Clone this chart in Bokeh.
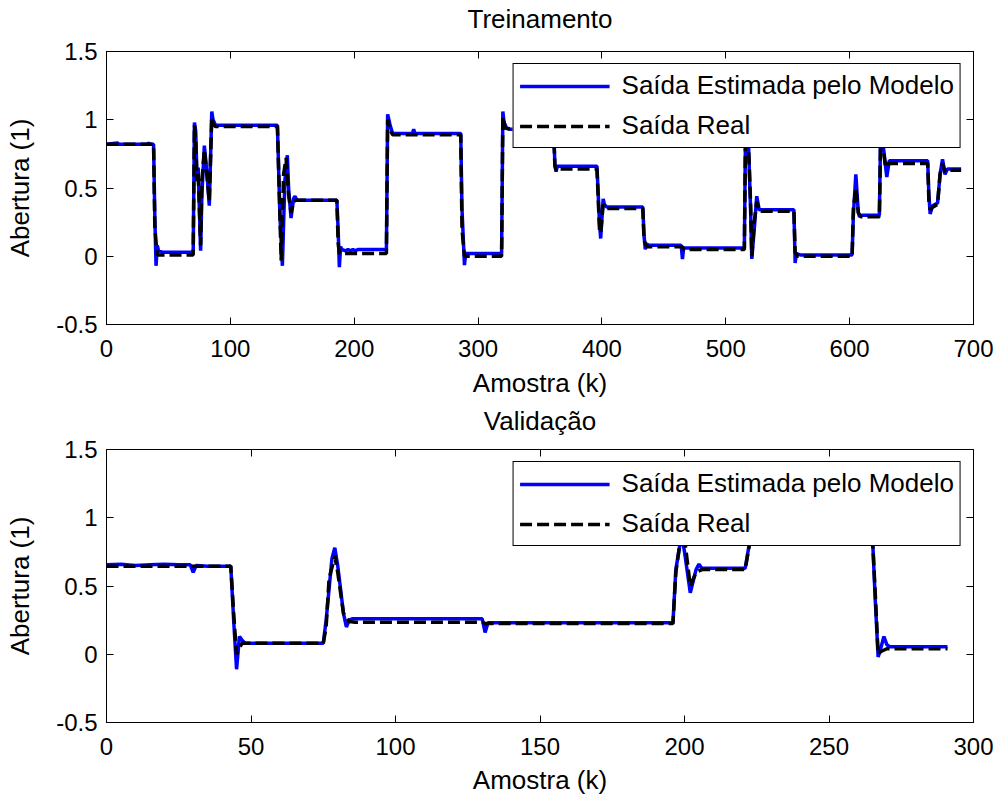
from bokeh.plotting import figure
from bokeh.models import Legend, LegendItem, LinearAxis, FixedTicker, Range1d
from bokeh.layouts import column
from bokeh.embed import file_html
from bokeh.resources import INLINE

FONT = "Liberation Sans"

# ---------------- Treinamento (training) ----------------
train_k_real = [0, 38, 39, 40, 41, 70, 71, 72, 73, 74, 76, 77, 79, 81, 83, 85, 86, 88, 138, 140, 141, 143,
                145, 147, 149, 151, 153, 186, 187, 188, 226, 227, 229, 231, 286, 287, 289, 319, 320, 322,
                326, 361, 362, 363, 364, 396, 398, 399, 401, 403, 433, 434, 436, 465, 466, 515, 516, 518,
                520, 521, 523, 525, 527, 555, 556, 558, 602, 603, 605, 607, 609, 624, 625, 627, 629, 631,
                663, 664, 665, 667, 671, 673, 675, 677, 680, 690]
train_real = [0.82, 0.82, 0.22, 0.10, 0.01, 0.01, 0.96, 0.85, 0.55, 0.62, 0.08, 0.55, 0.78, 0.60, 0.40,
              1.02, 0.97, 0.95, 0.95, 0.30, -0.03, 0.60, 0.72, 0.45, 0.32, 0.40, 0.41, 0.41, 0.10, 0.02,
              0.02, 1.00, 0.93, 0.89, 0.89, 0.20, 0.00, 0.00, 1.02, 0.94, 0.93, 0.93, 0.66, 0.63, 0.64,
              0.64, 0.20, 0.17, 0.38, 0.35, 0.35, 0.12, 0.07, 0.07, 0.05, 0.05, 0.95, 0.90, 0.40, 0.00,
              0.25, 0.40, 0.33, 0.33, 0.03, 0.00, 0.00, 0.35, 0.50, 0.32, 0.29, 0.29, 0.85, 0.80, 0.65,
              0.68, 0.68, 0.40, 0.34, 0.36, 0.38, 0.60, 0.68, 0.62, 0.63, 0.63]

train_k_est = [0, 9, 10, 33, 34, 35, 38, 39, 40, 41, 42, 45, 70, 71, 72, 73, 74, 76, 77, 79, 81, 83, 85,
               86, 88, 138, 140, 142, 144, 146, 147, 149, 151, 152, 154, 186, 187, 188, 189, 190, 193, 195,
               197, 199, 201, 203, 226, 227, 229, 231, 247, 248, 249, 286, 287, 289, 290, 319, 320, 321,
               323, 326, 361, 362, 363, 364, 396, 398, 399, 401, 402, 404, 433, 434, 435, 436, 438, 464,
               465, 466, 515, 516, 518, 520, 521, 523, 525, 527, 555, 556, 557, 560, 602, 603, 605, 607,
               608, 610, 624, 625, 627, 630, 632, 663, 664, 665, 667, 671, 673, 675, 677, 679, 690]
train_est = [0.82, 0.83, 0.82, 0.82, 0.83, 0.82, 0.82, 0.30, -0.07, 0.08, 0.04, 0.03, 0.03, 0.98, 0.92,
             0.60, 0.65, 0.04, 0.45, 0.81, 0.62, 0.37, 1.06, 1.00, 0.96, 0.96, 0.30, -0.07, 0.55, 0.74,
             0.50, 0.28, 0.42, 0.44, 0.41, 0.41, 0.20, -0.08, 0.07, 0.05, 0.04, 0.05, 0.04, 0.05, 0.04,
             0.05, 0.05, 1.04, 0.96, 0.90, 0.90, 0.93, 0.90, 0.90, 0.35, -0.065, 0.02, 0.02, 1.06, 0.98,
             0.94, 0.93, 0.93, 0.68, 0.62, 0.66, 0.66, 0.25, 0.13, 0.42, 0.38, 0.36, 0.36, 0.15, 0.05,
             0.09, 0.08, 0.08, -0.02, 0.06, 0.06, 0.97, 0.92, 0.35, -0.02, 0.20, 0.44, 0.34, 0.34, -0.05,
             0.02, 0.01, 0.01, 0.30, 0.60, 0.32, 0.29, 0.30, 0.30, 0.88, 0.82, 0.58, 0.70, 0.70, 0.45,
             0.31, 0.37, 0.39, 0.60, 0.71, 0.60, 0.64, 0.64]

# ---------------- Validação (validation) ----------------
val_k_real = [0, 43, 44, 45, 46, 47, 75, 76, 77, 79, 80, 82, 84, 86, 130, 131, 196, 197, 199, 200, 202,
              204, 206, 221, 223, 265, 266, 267, 268, 270, 291]
val_real = [0.645, 0.645, 0.30, 0.00, 0.05, 0.08, 0.08, 0.20, 0.55, 0.72, 0.60, 0.30, 0.24, 0.235, 0.235,
            0.225, 0.225, 0.60, 0.90, 0.85, 0.50, 0.60, 0.62, 0.62, 0.87, 0.87, 0.45, 0.00, 0.02, 0.04, 0.04]

val_k_est = [0, 5, 10, 15, 20, 25, 29, 30, 31, 35, 43, 44, 45, 46, 47, 48, 75, 76, 78, 79, 80, 82, 83, 84,
             85, 130, 131, 132, 196, 197, 199, 200, 202, 204, 205, 206, 221, 223, 265, 266, 267, 268, 269,
             270, 271, 291]
val_est = [0.655, 0.66, 0.65, 0.655, 0.66, 0.655, 0.655, 0.60, 0.65, 0.645, 0.645, 0.25, -0.11, 0.13, 0.10,
           0.08, 0.08, 0.25, 0.70, 0.78, 0.65, 0.30, 0.20, 0.25, 0.26, 0.26, 0.16, 0.23, 0.23, 0.62, 0.88,
           0.75, 0.45, 0.62, 0.66, 0.63, 0.63, 0.88, 0.88, 0.40, -0.02, 0.05, 0.13, 0.07, 0.055, 0.055]

y_ticks = [-0.5, 0, 0.5, 1, 1.5]
y_tick_labels = ["-0.5", "0", "0.5", "1", "1.5"]
train_x_ticks = [0, 100, 200, 300, 400, 500, 600, 700]
val_x_ticks = [0, 50, 100, 150, 200, 250, 300]

label_est = "Saída Estimada pelo Modelo"
label_real = "Saída Real"
x_label = "Amostra (k)"
y_label = "Abertura (1)"


def style_label(ax):
    ax.axis_label_text_font = FONT
    ax.axis_label_text_font_size = "26px"
    ax.axis_label_text_font_style = "normal"
    ax.axis_label_text_color = "black"


def make_fig(title, xmax, xticks, k_real, v_real, k_est, v_est, height, top, bottom,
             title_standoff, x_tick_standoff, x_label_standoff):
    p = figure(width=1000, height=height, output_backend="svg", toolbar_location=None,
               x_range=Range1d(0, xmax), y_range=Range1d(-0.5, 1.5),
               min_border_left=106, min_border_right=27, min_border_top=top, min_border_bottom=bottom,
               background_fill_color="white", border_fill_color="white")
    p.title = None
    p.xgrid.visible = False
    p.ygrid.visible = False
    p.outline_line_color = "black"
    p.outline_line_width = 1

    r_est = p.line(k_est, v_est, line_color="#0000ff", line_width=3.5)
    r_real = p.line(k_real, v_real, line_color="black", line_width=3.5, line_dash="12 5")

    overrides = {t: s for t, s in zip(y_ticks, y_tick_labels)}

    xa = p.xaxis[0]
    xa.ticker = FixedTicker(ticks=xticks)
    xa.axis_label = x_label
    xa.axis_label_standoff = x_label_standoff
    ya = p.yaxis[0]
    ya.ticker = FixedTicker(ticks=y_ticks)
    ya.major_label_overrides = overrides
    ya.axis_label = y_label
    ya.axis_label_standoff = 18
    for ax in (xa, ya):
        ax.major_tick_in = 7
        ax.major_tick_out = 0
        ax.minor_tick_line_color = None
        ax.axis_line_color = "black"
        ax.major_tick_line_color = "black"
        ax.major_label_text_font = FONT
        ax.major_label_text_font_size = "24px"
        ax.major_label_text_color = "black"
        style_label(ax)
    xa.major_label_standoff = x_tick_standoff
    ya.major_label_standoff = 9

    # box ticks on top (carrying the title) and right (no labels)
    top_ax = LinearAxis(ticker=FixedTicker(ticks=xticks), major_tick_in=7, major_tick_out=0,
                        minor_tick_line_color=None, major_label_text_font_size="2px",
                        major_label_text_color=None, major_label_standoff=0,
                        axis_line_color="black", major_tick_line_color="black",
                        axis_label=title, axis_label_standoff=title_standoff)
    style_label(top_ax)
    right_ax = LinearAxis(ticker=FixedTicker(ticks=y_ticks), major_tick_in=7, major_tick_out=0,
                          minor_tick_line_color=None, major_label_text_font_size="2px",
                          major_label_text_color=None, major_label_standoff=0,
                          axis_line_color="black", major_tick_line_color="black")
    p.add_layout(top_ax, "above")
    p.add_layout(right_ax, "right")

    legend = Legend(items=[LegendItem(label=label_est, renderers=[r_est]),
                           LegendItem(label=label_real, renderers=[r_real])],
                    location="top_right", margin=12, padding=6, spacing=9,
                    glyph_width=90, glyph_height=20, label_standoff=12,
                    label_text_font=FONT, label_text_font_size="26px", label_text_color="black",
                    border_line_color="black", border_line_width=1, border_line_alpha=1,
                    background_fill_color="white", background_fill_alpha=1)
    p.add_layout(legend)
    return p


p1 = make_fig("Treinamento", 700, train_x_ticks, train_k_real, train_real, train_k_est, train_est,
              400, 51, 73, 18, 15, 8)
p2 = make_fig("Validação", 300, val_x_ticks, val_k_real, val_real, val_k_est, val_est,
              397, 49, 72, 14, 15, 7)

layout = column(p1, p2, spacing=0)
open("out.html", "w").write(file_html(layout, INLINE))
